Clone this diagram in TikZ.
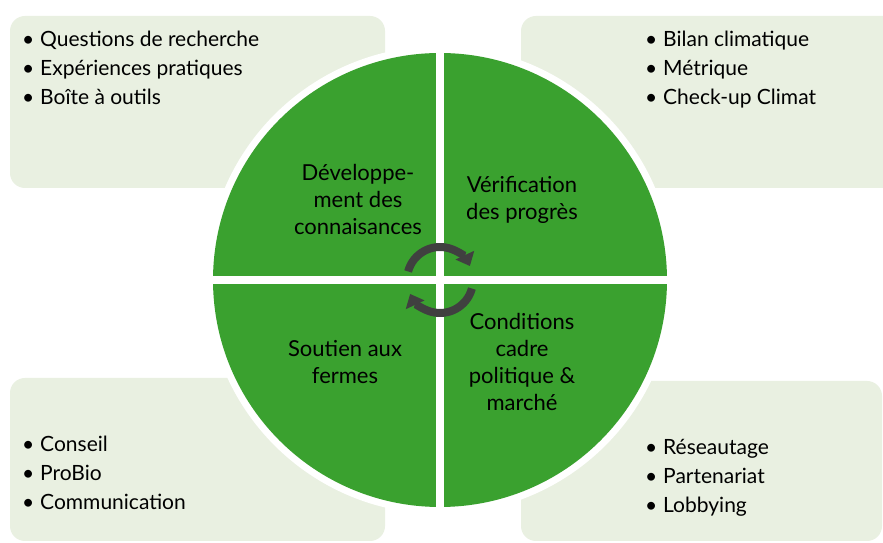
\documentclass[tikz,border=0pt]{standalone}
\usepackage{fontspec}
\setmainfont{Lato}
\usepackage{tikz}
\usetikzlibrary{arrows.meta, positioning}
\definecolor{vert}{HTML}{3AA12F}
\definecolor{vertclair}{HTML}{E9F0E1}
\definecolor{fleche}{HTML}{404040}
\newcommand\puce{\makebox[18pt][l]{\textbullet}}
\tikzset{x=1pt, y=1pt,
  cadre/.style={fill=vertclair, rounded corners=15pt},
  liste/.style={align=left, anchor=west, inner sep=0pt, font=\fontsize{21}{29}\selectfont},
  secteur/.style={align=center, inner sep=0pt, font=\fontsize{22}{27}\selectfont},
  tour/.style={draw=fleche, line width=8pt, -{Triangle[length=12pt, width=20pt]}}}

\begin{document}
\begin{tikzpicture}
    \clip (0,0) rectangle (883,543);
    \fill[white] (0,0) rectangle (883,543);
    \fill[cadre] (10,355) rectangle (385,527);
    \fill[cadre] (521,355) rectangle (900,527);
    \fill[cadre] (10,2) rectangle (385,165);
    \fill[cadre] (521,2) rectangle (882,162);
    \coordinate (centre) at (440,263);
    \fill[white] (centre) circle (234);
    \fill[vert] (centre) circle (227);
    \draw[white, line width=8pt] ([yshift=-240]centre) -- ([yshift=240]centre)
        ([xshift=-240]centre) -- ([xshift=240]centre);
    \draw[tour] ([shift={(165:33)}]centre) arc (165:25:33);
    \draw[tour] ([shift={(-15:33)}]centre) arc (-15:-155:33);

    \node[secteur] (savoir) at (358,344) {Développe-\\ment des\\connaisances};
    \node[secteur] (verif) at (522,343) {Vérification\\des progrès};
    \node[secteur] (soutien) at (345,181) {Soutien aux\\fermes};
    \node[secteur] (marche) at (522,181) {Conditions\\cadre\\politique \&\\marché};

    \node[liste] (recherche) at (22,475) {\puce Questions de recherche\\\puce Expériences pratiques\\\puce Boîte à outils};
    \node[liste] (bilan) at (645,473) {\puce Bilan climatique\\\puce Métrique\\\puce Check-up Climat};
    \node[liste] (conseil) at (22,70) {\puce Conseil\\\puce ProBio\\\puce Communication};
    \node[liste] (reseau) at (645,65) {\puce Réseautage\\\puce Partenariat\\\puce Lobbying};
\end{tikzpicture}
\end{document}
